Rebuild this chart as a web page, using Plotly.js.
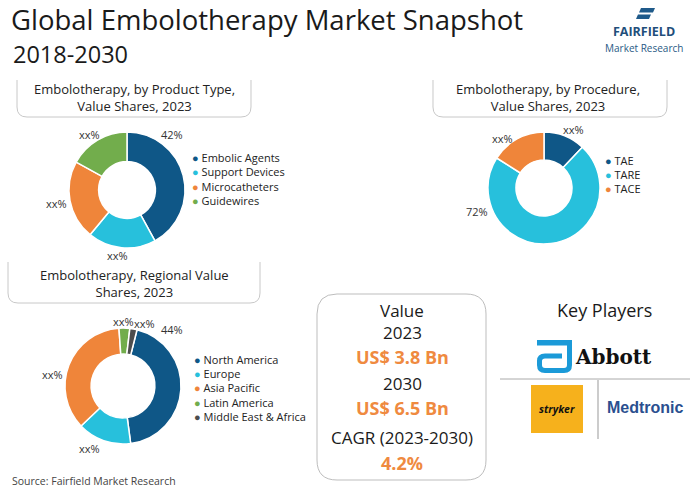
<!DOCTYPE html>
<html><head><meta charset="utf-8">
<script src="https://cdn.plot.ly/plotly-3.0.1.min.js"></script>
<style>html,body{margin:0;padding:0;background:#fff}#chart{width:700px;height:491px}</style>
</head><body><div id="chart"></div>
<script>
// ---------------- data ----------------
const productCategories = ['Embolic Agents', 'Support Devices', 'Microcatheters', 'Guidewires'];
const productValues = [42, 19, 22, 17];
const productLabels = ['42%', 'xx%', 'xx%', 'xx%'];

const procedureCategories = ['TAE', 'TARE', 'TACE'];
const procedureValues = [12, 72, 16];
const procedureLabels = ['xx%', '72%', 'xx%'];

const regionCategories = ['North America', 'Europe', 'Asia Pacific', 'Latin America', 'Middle East & Africa'];
const regionValues = [44, 15, 36, 3, 2];
const regionLabels = ['44%', 'xx%', 'xx%', 'xx%', 'xx%'];

const marketYears = ['2023', '2030'];
const marketValuesBn = [3.8, 6.5];
const cagrPeriod = '2023-2030';
const cagrPercent = 4.2;

const keyPlayers = ['Abbott', 'stryker', 'Medtronic'];

// ---------------- styling ----------------
const W = 700, H = 491;
const X = px => px / W;
const Y = py => 1 - py / H;
const P = (x, y) => X(x).toFixed(5) + ',' + Y(y).toFixed(5);
const FONT = 'Open Sans, Noto Sans, sans-serif';
const C_DARK = '#0f5787', C_CYAN = '#27c0dc', C_ORANGE = '#ef853a', C_GREEN = '#72ad4c', C_GRAY = '#4d4d4d';
const ORANGE_TXT = '#ef8a40';

const productColors = [C_DARK, C_CYAN, C_ORANGE, C_GREEN];
const procedureColors = [C_DARK, C_CYAN, C_ORANGE];
const regionColors = [C_DARK, C_CYAN, C_ORANGE, C_GREEN, C_GRAY];

function dom(cx, cy, r) {
  return { x: [X(cx - r), X(cx + r)], y: [Y(cy + r), Y(cy - r)] };
}
function pie(labels, values, colors, d, hole, rotation) {
  return {
    type: 'pie', labels: labels, values: values, sort: false, direction: 'clockwise',
    rotation: rotation, hole: hole, domain: d, textinfo: 'none', hoverinfo: 'label+percent',
    marker: { colors: colors, line: { color: '#ffffff', width: 1.5 } }, showlegend: false
  };
}

const data = [
  pie(productCategories, productValues, productColors, dom(127, 190, 58), 0.49, 0),
  pie(procedureCategories, procedureValues, procedureColors, dom(544, 188, 56), 0.5, 0),
  pie(regionCategories, regionValues, regionColors, dom(123, 386, 58), 0.55, 14)
];

const annotations = [];
function ann(text, x, y, opts) {
  annotations.push(Object.assign({
    text: text, x: X(x), y: Y(y), xref: 'paper', yref: 'paper', showarrow: false,
    xanchor: 'center', yanchor: 'middle', font: { family: FONT, size: 11, color: '#333' }
  }, opts || {}));
}

// slice labels
const productLabelPos = [[172, 134], [117, 256], [56, 204], [89, 134]];
productLabels.forEach((t, i) => ann(t, productLabelPos[i][0], productLabelPos[i][1]));
const procedureLabelPos = [[573, 129], [477, 211], [502, 138]];
procedureLabels.forEach((t, i) => ann(t, procedureLabelPos[i][0], procedureLabelPos[i][1]));
const regionLabelPos = [[172, 329], [89, 448], [52, 374], [124, 321], [144, 323]];
regionLabels.forEach((t, i) => ann(t, regionLabelPos[i][0], regionLabelPos[i][1]));

// legends
function legend(names, colors, x, y0, dy) {
  names.forEach((n, i) => ann('<span style="color:' + colors[i] + '">●</span> ' + n, x, y0 + i * dy,
    { xanchor: 'left', font: { family: FONT, size: 11, color: '#222' } }));
}
legend(productCategories, productColors, 190, 157, 14.6);
legend(procedureCategories, procedureColors, 603, 160.5, 14.2);
legend(regionCategories, regionColors, 192, 359, 14.4);

// panel headings
const HF = { family: FONT, size: 13, color: '#222' };
ann('Embolotherapy, by Product Type,<br>Value Shares, 2023', 134, 97, { font: HF });
ann('Embolotherapy, by Procedure,<br>Value Shares, 2023', 548, 97, { font: HF });
ann('Embolotherapy, Regional Value<br>Shares, 2023', 134, 283.5, { font: HF });

// title line 2
ann('2018-2030', 11, 54, { xanchor: 'left', font: { family: FONT, size: 23.5, color: '#1a1a1a' } });

// value box
const VF = { family: FONT, size: 17, color: '#1a1a1a' };
const VO = { family: FONT, size: 18, color: ORANGE_TXT, weight: 'bold' };
ann('Value', 402, 310, { font: VF });
ann(marketYears[0], 402, 332, { font: VF });
ann('US$ ' + marketValuesBn[0].toFixed(1) + ' Bn', 402, 357, { font: VO });
ann(marketYears[1], 402, 383, { font: VF });
ann('US$ ' + marketValuesBn[1].toFixed(1) + ' Bn', 402, 408, { font: VO });
ann('CAGR (' + cagrPeriod + ')', 402, 437, { font: VF });
ann(cagrPercent.toFixed(1) + '%', 402, 463, { font: VO });

// key players
ann('Key Players', 604, 310, { font: { family: FONT, size: 18, color: '#1a1a1a' } });
ann(keyPlayers[0], 613, 357, { font: { family: 'DejaVu Serif, Liberation Serif, serif', size: 20, color: '#111', weight: 'bold' } });
ann('<i>' + keyPlayers[1] + '</i>', 557, 409, { font: { family: FONT, size: 10.5, color: '#111', weight: 'bold' } });
ann(keyPlayers[2], 645, 407, { font: { family: 'Liberation Sans, Arial, sans-serif', size: 16, color: '#2a4f8f', weight: 'bold' } });

// Fairfield logo text
ann('FAIRFIELD', 644, 31, { font: { family: FONT, size: 12.5, color: '#1f4f7b', weight: 'bold' } });
ann('Market Research', 644, 47.5, { font: { family: FONT, size: 10, color: '#2a5a85' } });

// source
ann('Source: Fairfield Market Research', 10, 481, { xanchor: 'left', font: { family: FONT, size: 10.5, color: '#444' } });

// shapes
function uBox(x0, y0, x1, y1, r) {
  return { type: 'path', xref: 'paper', yref: 'paper', line: { color: '#c8c8c8', width: 1 },
    path: 'M' + P(x0, y0) + ' L' + P(x0, y1 - r) + ' Q' + P(x0, y1) + ' ' + P(x0 + r, y1) +
      ' L' + P(x1 - r, y1) + ' Q' + P(x1, y1) + ' ' + P(x1, y1 - r) + ' L' + P(x1, y0) };
}
function rBox(x0, y0, x1, y1, r) {
  return { type: 'path', xref: 'paper', yref: 'paper', line: { color: '#bdbdbd', width: 1 },
    path: 'M' + P(x0 + r, y0) + ' L' + P(x1 - r, y0) + ' Q' + P(x1, y0) + ' ' + P(x1, y0 + r) +
      ' L' + P(x1, y1 - r) + ' Q' + P(x1, y1) + ' ' + P(x1 - r, y1) +
      ' L' + P(x0 + r, y1) + ' Q' + P(x0, y1) + ' ' + P(x0, y1 - r) +
      ' L' + P(x0, y0 + r) + ' Q' + P(x0, y0) + ' ' + P(x0 + r, y0) + ' Z' };
}
function line(x0, y0, x1, y1, c) {
  return { type: 'line', xref: 'paper', yref: 'paper', x0: X(x0), y0: Y(y0), x1: X(x1), y1: Y(y1), line: { color: c, width: 1 } };
}
function poly(pts, fill) {
  return { type: 'path', xref: 'paper', yref: 'paper', fillcolor: fill, line: { width: 0 },
    path: 'M' + pts.map(p => P(p[0], p[1])).join(' L') + ' Z' };
}
const shapes = [
  uBox(17, 80, 251, 117, 10),
  uBox(433, 80, 667, 117, 10),
  uBox(8, 262, 260, 303, 10),
  rBox(317, 294, 486, 480, 20),
  line(500, 379, 690, 379, '#aaaaaa'),
  line(598, 380, 598, 439, '#999999'),
  { type: 'rect', xref: 'paper', yref: 'paper', x0: X(531), x1: X(583), y0: Y(433), y1: Y(385), fillcolor: '#f6b11c', line: { width: 0 } },
  // Abbott icon
  poly([[537, 340], [572, 340], [572, 345.5], [537, 345.5]], '#1b9ad8'),
  { type: 'path', xref: 'paper', yref: 'paper', line: { color: '#1b9ad8', width: 5 },
    path: 'M' + P(569.5, 345) + ' L' + P(569.5, 365) + ' Q' + P(569.5, 370.5) + ' ' + P(564, 370.5) +
      ' L' + P(545, 370.5) + ' Q' + P(539.5, 370.5) + ' ' + P(539.5, 365) + ' L' + P(539.5, 361) +
      ' Q' + P(539.5, 356) + ' ' + P(545, 356) + ' L' + P(562, 356) },
  // Fairfield icon
  poly([[641, 8], [655, 8], [653, 12.5], [639, 12.5]], '#1f5a8a'),
  poly([[638, 14.5], [651, 14.5], [649, 19], [636, 19]], '#1f5a8a')
];

const layout = {
  width: W, height: H, margin: { l: 0, r: 0, t: 0, b: 0 },
  paper_bgcolor: '#ffffff', plot_bgcolor: '#ffffff', showlegend: false,
  title: { text: 'Global Embolotherapy Market Snapshot', x: X(11), xanchor: 'left', xref: 'paper',
    y: Y(20), yanchor: 'middle', yref: 'paper', font: { family: FONT, size: 27.5, color: '#1a1a1a' } },
  annotations: annotations, shapes: shapes
};
Plotly.newPlot('chart', data, layout, { staticPlot: true, displayModeBar: false });
</script>
</body></html>
